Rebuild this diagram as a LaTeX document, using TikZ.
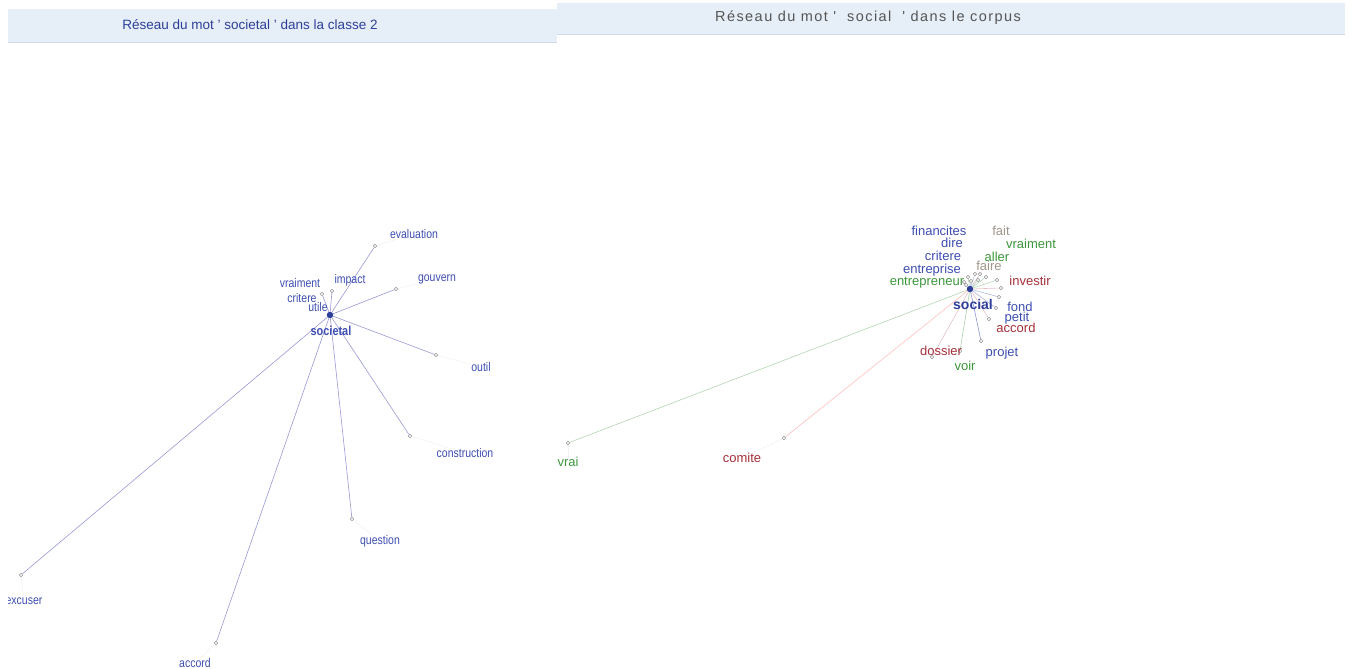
\documentclass[tikz,border=0pt]{standalone}
\usepackage{fontspec}
\setmainfont{Liberation Sans}
\newfontfamily\narrowsf[FakeStretch=0.84]{Liberation Sans}
\newfontfamily\spacedsf[LetterSpace=10]{Liberation Sans}
\usetikzlibrary{positioning}
\definecolor{BarFill}{HTML}{E6EEF7}
\definecolor{BarLine}{HTML}{D2DAEA}
\definecolor{LBlue}{HTML}{3D4DB0}
\definecolor{HubBlue}{HTML}{2E3F9A}
\definecolor{EdgeBlue}{HTML}{9898D6}
\definecolor{WGreen}{HTML}{3C963C}
\definecolor{WRed}{HTML}{A5303A}
\definecolor{WGray}{HTML}{A0968A}
\definecolor{TitleGray}{HTML}{555555}
\pgfdeclarelayer{edges}
\pgfsetlayers{edges,main}

\begin{document}
\begin{tikzpicture}[
    x=1pt, y=-1pt,
    bar/.style={fill=BarFill, draw=none},
    dot/.style={circle, draw=gray!85, fill=white, line width=0.5pt, inner sep=0pt, minimum size=3.6pt},
    hub/.style={circle, fill=HubBlue, inner sep=0pt, minimum size=6.5pt},
    lword/.style={font=\narrowsf\fontsize{12.5}{14}\selectfont, text=LBlue, inner sep=0.5pt},
    rword/.style={font=\fontsize{13}{15}\selectfont, inner sep=0.5pt},
    ledge/.style={EdgeBlue, line width=0.6pt},
    redge/.style={line width=0.6pt},
    leader/.style={gray!10, line width=0.6pt}
]
    \useasboundingbox (0,0) rectangle (1353,669);

    % === TITLE BARS ===
    \fill[bar] (8,9) rectangle (557,43);
    \draw[BarLine, line width=1pt] (8,43) -- (557,43);
    \node[font=\fontsize{13.5}{15}\selectfont, text=HubBlue] (titleL) at (250,25)
        {Réseau du mot ' societal ' dans la classe 2};
    \fill[bar] (557,3) rectangle (1345,35);
    \draw[BarLine, line width=1pt] (557,35) -- (1345,35);
    \node[font=\spacedsf\fontsize{14.5}{16}\selectfont, text=TitleGray] (titleR) at (868,18)
        {Réseau du mot '\ \ social\ \ ' dans le corpus};

    % === LEFT NETWORK: societal ===
    \begin{scope}
    \clip (8,44) rectangle (557,669);
    \node[hub] (hubL) at (330,315) {};
    \node[lword, font=\narrowsf\bfseries\fontsize{13}{15}\selectfont] (lSocietal) at (331,331) {societal};

    % words with their dots
    \node[dot] (dEvaluation) at (375,246) {};
    \node[lword] (lEvaluation) at (414,234) {evaluation};
    \node[dot] (dGouvern) at (396,289) {};
    \node[lword] (lGouvern) at (437,279) {gouvern};
    \node[dot] (dImpact) at (332,291) {};
    \node[lword] (lImpact) at (350,280) {impact};
    \node[dot] (dVraiment) at (322,294) {};
    \node[lword] (lVraiment) at (300,283) {vraiment};
    \node[lword] (lCritere) at (302,298) {critere};
    \node[lword] (lUtile) at (318,307) {utile};
    \node[dot] (dOutil) at (436,355) {};
    \node[lword] (lOutil) at (481,367) {outil};
    \node[dot] (dConstruction) at (410,436) {};
    \node[lword] (lConstruction) at (465,453) {construction};
    \node[dot] (dQuestion) at (352,519) {};
    \node[lword] (lQuestion) at (380,541) {question};
    \node[dot] (dExcuser) at (21,575) {};
    \node[lword] (lExcuser) at (24,601) {excuser};
    \node[dot] (dAccord) at (216,643) {};
    \node[lword] (lAccord) at (195,663) {accord};

    \begin{pgfonlayer}{edges}
    \foreach \w in {Evaluation, Gouvern, Impact, Vraiment, Outil, Construction, Question, Excuser, Accord}
        \draw[ledge] (hubL) -- (d\w);
    \foreach \w in {Evaluation, Gouvern, Outil, Construction, Question, Excuser, Accord}
        \draw[leader] (d\w) -- (l\w);
    \end{pgfonlayer}
    \end{scope}

    % === RIGHT NETWORK: social ===
    \begin{scope}
    \clip (557,36) rectangle (1353,669);
    \node[hub] (hubR) at (970,289) {};
    \node[rword, font=\bfseries\fontsize{14}{16}\selectfont, text=HubBlue] (rSocial) at (973,304) {social};

    % dots around the hub
    \node[dot] (dFinancites) at (964,282) {};
    \node[dot] (dDire) at (971,281) {};
    \node[dot] (dCritere) at (966,285) {};
    \node[dot] (dEntrepreneur) at (968,277) {};
    \node[dot] (dEntreprise) at (975,274) {};
    \node[dot] (dFaire) at (980,274) {};
    \node[dot] (dAller) at (986,277) {};
    \node[dot] (dFait) at (978,280) {};
    \node[dot] (dVraiment) at (997,280) {};
    \node[dot] (dInvestir) at (1001,288) {};
    \node[dot] (dFond) at (999,297) {};
    \node[dot] (dPetit) at (996,308) {};
    \node[dot] (dAccord) at (989,319) {};
    \node[dot] (dProjet) at (981,341) {};
    \node[dot] (dVoir) at (960,351) {};
    \node[dot] (dDossier) at (932,357) {};
    \node[dot] (dComite) at (784,438) {};
    \node[dot] (dVrai) at (568,443) {};

    % words
    \node[rword, text=LBlue] (rFinancites) at (939,231) {financites};
    \node[rword, text=WGray] (rFait) at (1001,231) {fait};
    \node[rword, text=LBlue] (rDire) at (952,243) {dire};
    \node[rword, text=WGreen] (rVraiment) at (1031,244) {vraiment};
    \node[rword, text=LBlue] (rCritere) at (943,256) {critere};
    \node[rword, text=WGreen] (rAller) at (997,257) {aller};
    \node[rword, text=WGray] (rFaire) at (989,266) {faire};
    \node[rword, text=LBlue] (rEntreprise) at (932,270) {entreprise};
    \node[rword, text=WGreen] (rEntrepreneur) at (927,283) {entrepreneur};
    \node[rword, text=WRed] (rInvestir) at (1030,281) {investir};
    \node[rword, text=LBlue] (rFond) at (1020,307) {fond};
    \node[rword, text=LBlue] (rPetit) at (1017,318) {petit};
    \node[rword, text=WRed] (rAccord) at (1016,328) {accord};
    \node[rword, text=LBlue] (rProjet) at (1002,353) {projet};
    \node[rword, text=WRed] (rDossier) at (941,351) {dossier};
    \node[rword, text=WGreen] (rVoir) at (965,366) {voir};
    \node[rword, text=WRed] (rComite) at (742,458) {comite};
    \node[rword, text=WGreen] (rVrai) at (568,462) {vrai};

    \begin{pgfonlayer}{edges}
    \foreach \w/\c in {Financites/gray!35, Dire/LBlue!35, Critere/LBlue!35, Entrepreneur/WGreen!40,
                       Entreprise/LBlue!35, Faire/gray!40, Aller/WGreen!40, Fait/gray!40,
                       Vraiment/WGreen!40, Investir/WRed!30, Fond/LBlue!40, Petit/LBlue!40,
                       Accord/WRed!30, Projet/LBlue!60, Voir/WGreen!45, Dossier/WRed!30,
                       Comite/red!25, Vrai/WGreen!40}
        \draw[redge, \c] (hubR) -- (d\w);
    \draw[leader] (dComite) -- (rComite);
    \draw[leader] (dVrai) -- (rVrai);
    \end{pgfonlayer}
    \end{scope}
\end{tikzpicture}
\end{document}
